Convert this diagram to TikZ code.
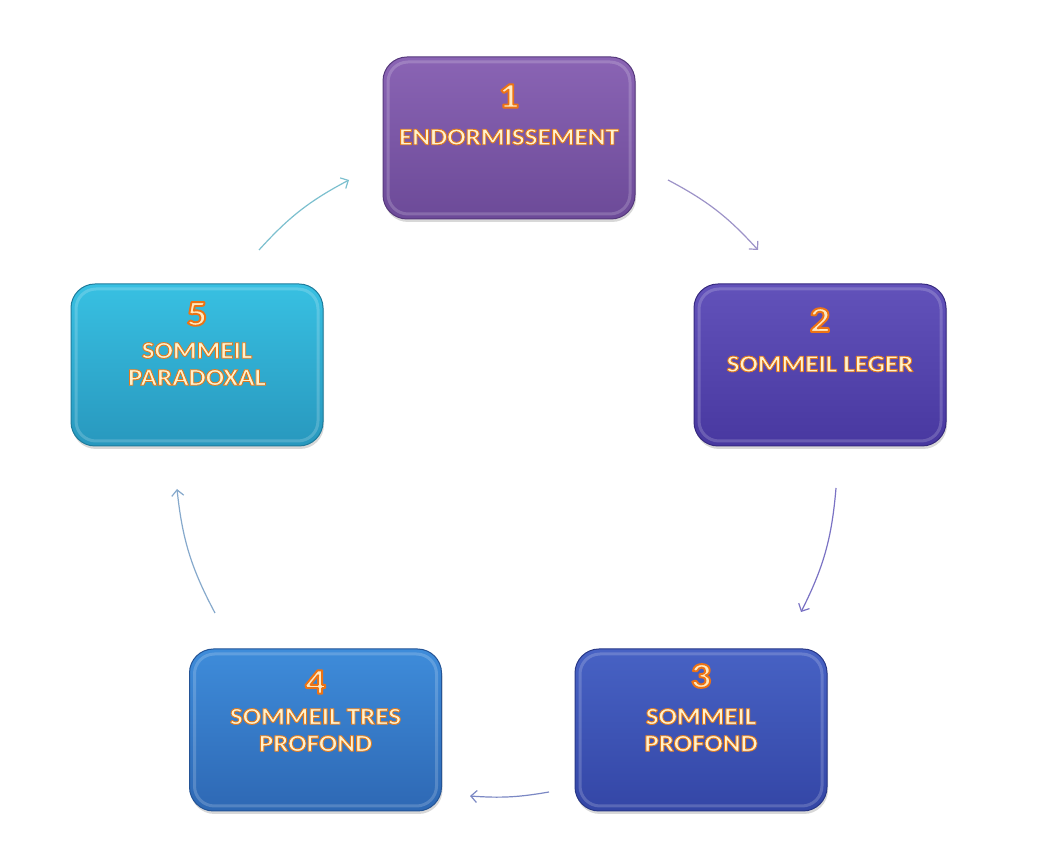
\documentclass[tikz,border=0pt]{standalone}
\usepackage{fontspec}
\setmainfont{Carlito}[FakeStretch=1.13]
\usetikzlibrary{arrows.meta,shadows}
\definecolor{cream}{HTML}{FFF2CC}
\definecolor{numfill}{HTML}{FFE9C0}
\definecolor{t1}{HTML}{8A64B4}\definecolor{b1}{HTML}{6C4A98}\definecolor{d1}{HTML}{56397C}
\definecolor{t2}{HTML}{6252BA}\definecolor{b2}{HTML}{4838A0}\definecolor{d2}{HTML}{372A80}
\definecolor{t3}{HTML}{4762C4}\definecolor{b3}{HTML}{3446A6}\definecolor{d3}{HTML}{283887}
\definecolor{t4}{HTML}{3E8CDA}\definecolor{b4}{HTML}{2E68B4}\definecolor{d4}{HTML}{245496}
\definecolor{t5}{HTML}{38C0E2}\definecolor{b5}{HTML}{2898BE}\definecolor{d5}{HTML}{1F7C9C}
\definecolor{a1}{HTML}{9D93C8}\definecolor{a2}{HTML}{7A72C4}\definecolor{a3}{HTML}{7B88C4}
\definecolor{a4}{HTML}{86A9CC}\definecolor{a5}{HTML}{7CC0CF}
% text filled with #1 and outlined (stroked, width #3) with the rgb colour #2
\newcommand\glowtxt[4]{{\color{#1}\special{pdf:literal direct 2 Tr #3 w 1 j #2 RG}#4\special{pdf:literal direct 0 Tr}}}
\newcommand\num[1]{\glowtxt{numfill}{0.93 0.45 0.08}{1.9}{#1}}
\newcommand\lbl[1]{\glowtxt{cream}{0.88 0.48 0.12}{0.9}{#1}}
\tikzset{
  stage/.style n args={3}{rounded corners=24pt, minimum width=252pt,
    minimum height=162pt, draw=#3, line width=1pt,
    top color=#1, bottom color=#2,
    drop shadow={shadow xshift=1pt, shadow yshift=-3pt, opacity=.3},
    path picture={\draw[white, opacity=.18, line width=3pt, rounded corners=20pt]
      ([shift={(5pt,5pt)}]path picture bounding box.south west) rectangle
      ([shift={(-5pt,-5pt)}]path picture bounding box.north east);}},
  numst/.style={font=\fontsize{36}{36}\selectfont\bfseries, inner sep=0pt},
  lblst/.style={font=\fontsize{24}{27}\selectfont\bfseries, align=center, inner sep=0pt},
  cyc/.style={line width=1.2pt, -{Straight Barb[length=6pt,width=12pt]}, bend left=#1},
}
\begin{document}
\begin{tikzpicture}[x=1pt,y=1pt]
\fill[white] (0,0) rectangle (1061,849);
\useasboundingbox (0,0) rectangle (1061,849);

\node[stage={t1}{b1}{d1},
  label={[numst,yshift=42pt]center:{\num{1}}},
  label={[lblst,yshift=1pt]center:{\lbl{ENDORMISSEMENT}}}] (n1) at (509,711) {};
\node[stage={t2}{b2}{d2},
  label={[numst,yshift=45pt]center:{\num{2}}},
  label={[lblst,yshift=1pt]center:{\lbl{SOMMEIL LEGER}}}] (n2) at (820,484) {};
\node[stage={t3}{b3}{d3},
  label={[numst,yshift=54pt]center:{\num{3}}},
  label={[lblst,yshift=0pt]center:{\lbl{SOMMEIL}\\\lbl{PROFOND}}}] (n3) at (701,119) {};
\node[stage={t4}{b4}{d4},
  label={[numst,yshift=48pt]center:{\num{4}}},
  label={[lblst,yshift=0pt]center:{\lbl{SOMMEIL TRES}\\\lbl{PROFOND}}}] (n4) at (315.5,119) {};
\node[stage={t5}{b5}{d5},
  label={[numst,yshift=51pt]center:{\num{5}}},
  label={[lblst,yshift=1pt]center:{\lbl{SOMMEIL}\\\lbl{PARADOXAL}}}] (n5) at (197,484) {};

\coordinate (s1) at (668,669); \coordinate (e1) at (758,599);
\coordinate (s2) at (836,361); \coordinate (e2) at (801,237);
\coordinate (s3) at (549,57);  \coordinate (e3) at (470,53);
\coordinate (s4) at (215,236); \coordinate (e4) at (177,360);
\coordinate (s5) at (259,599); \coordinate (e5) at (349,669);

\draw[cyc=10, draw=a1] (s1) to (e1);
\draw[cyc=11, draw=a2] (s2) to (e2);
\draw[cyc=7, draw=a3] (s3) to (e3);
\draw[cyc=11, draw=a4] (s4) to (e4);
\draw[cyc=10, draw=a5] (s5) to (e5);
\end{tikzpicture}
\end{document}
